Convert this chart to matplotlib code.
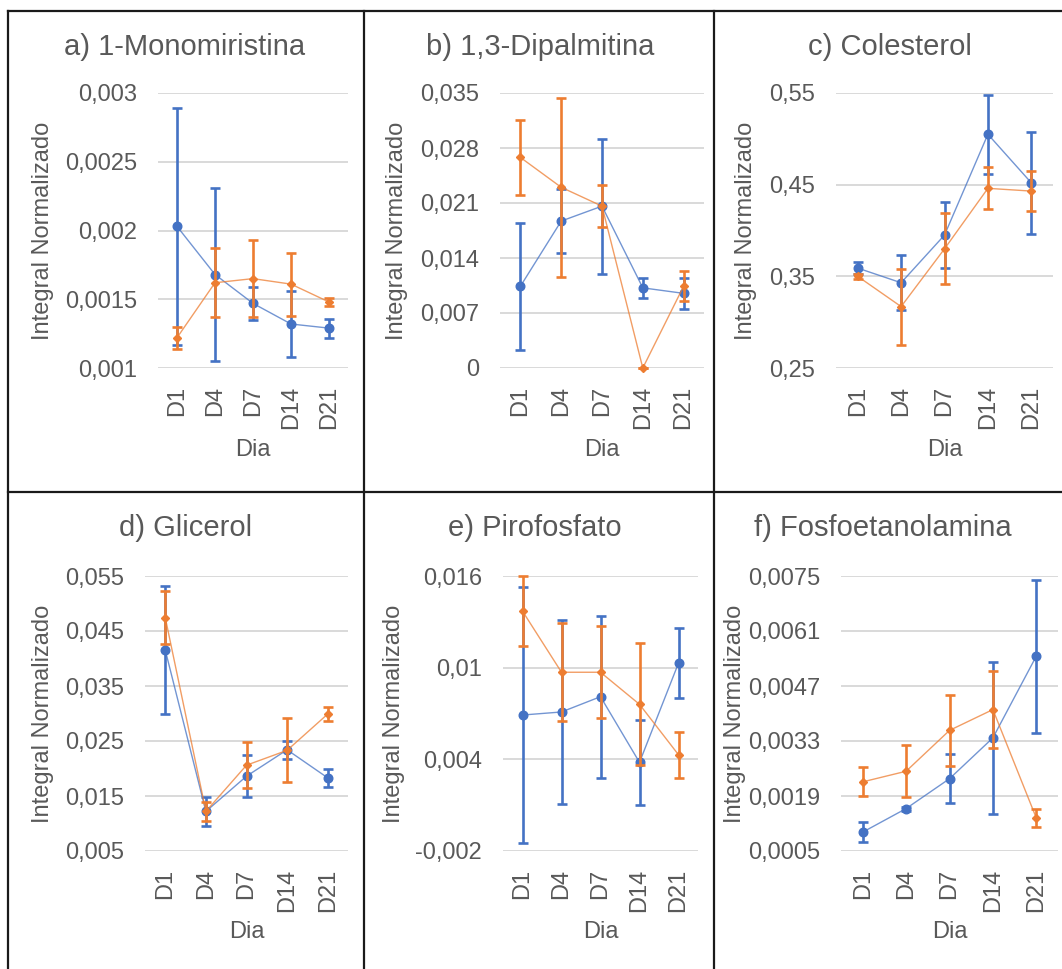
import matplotlib
matplotlib.use("Agg")
import matplotlib.pyplot as plt
from matplotlib.lines import Line2D

plt.rcParams["font.family"] = ["Liberation Sans", "DejaVu Sans"]

# ---- data -------------------------------------------------------------
dias = ["D1", "D4", "D7", "D14", "D21"]

# a) 1-Monomiristina
mono_g1 = [0.00203, 0.00168, 0.00147, 0.00132, 0.00129]
mono_g1_err = [0.00086, 0.00063, 0.00012, 0.00024, 0.00007]
mono_g2 = [0.00122, 0.00162, 0.00165, 0.00161, 0.00148]
mono_g2_err = [0.00008, 0.00025, 0.00028, 0.00023, 0.00003]
mono_ticks = [0.001, 0.0015, 0.002, 0.0025, 0.003]
mono_labels = ["0,001", "0,0015", "0,002", "0,0025", "0,003"]

# b) 1,3-Dipalmitina
dipal_g1 = [0.0104, 0.0187, 0.0206, 0.0102, 0.0095]
dipal_g1_err = [0.0081, 0.0041, 0.0086, 0.0013, 0.0020]
dipal_g2 = [0.0268, 0.0230, 0.0206, 0.0, 0.0104]
dipal_g2_err = [0.0048, 0.0114, 0.0027, 0.0, 0.0019]
dipal_ticks = [0.0, 0.007, 0.014, 0.021, 0.028, 0.035]
dipal_labels = ["0", "0,007", "0,014", "0,021", "0,028", "0,035"]

# c) Colesterol
col_g1 = [0.359, 0.343, 0.395, 0.505, 0.452]
col_g1_err = [0.0065, 0.030, 0.036, 0.043, 0.056]
col_g2 = [0.350, 0.317, 0.380, 0.446, 0.443]
col_g2_err = [0.0025, 0.0415, 0.0387, 0.023, 0.022]
col_ticks = [0.25, 0.35, 0.45, 0.55]
col_labels = ["0,25", "0,35", "0,45", "0,55"]

# d) Glicerol
glic_g1 = [0.0415, 0.0122, 0.0186, 0.0234, 0.0183]
glic_g1_err = [0.0116, 0.0027, 0.0038, 0.0016, 0.0016]
glic_g2 = [0.0474, 0.0122, 0.0206, 0.0233, 0.0299]
glic_g2_err = [0.0048, 0.0017, 0.0042, 0.0058, 0.0012]
glic_ticks = [0.005, 0.015, 0.025, 0.035, 0.045, 0.055]
glic_labels = ["0,005", "0,015", "0,025", "0,035", "0,045", "0,055"]

# e) Pirofosfato
piro_g1 = [0.0069, 0.0071, 0.0081, 0.0038, 0.0103]
piro_g1_err = [0.0084, 0.0060, 0.0053, 0.0028, 0.0023]
piro_g2 = [0.0137, 0.0097, 0.0097, 0.0076, 0.0043]
piro_g2_err = [0.0023, 0.0032, 0.0030, 0.0040, 0.0015]
piro_ticks = [-0.002, 0.004, 0.010, 0.016]
piro_labels = ["-0,002", "0,004", "0,01", "0,016"]

# f) Fosfoetanolamina
fosfo_g1 = [0.00098, 0.00158, 0.00234, 0.00338, 0.00546]
fosfo_g1_err = [0.00026, 0.00005, 0.00062, 0.00193, 0.00195]
fosfo_g2 = [0.00226, 0.00253, 0.00357, 0.00410, 0.00134]
fosfo_g2_err = [0.00037, 0.00066, 0.00091, 0.00097, 0.00023]
fosfo_ticks = [0.0005, 0.0019, 0.0033, 0.0047, 0.0061, 0.0075]
fosfo_labels = ["0,0005", "0,0019", "0,0033", "0,0047", "0,0061", "0,0075"]

# ---- figure -----------------------------------------------------------
W, H = 1062, 969
fig = plt.figure(figsize=(W / 100, H / 100), dpi=100)

AZUL = "#4472C4"
LARANJA = "#ED7D31"
TEXTO = "#595959"
GRADE = "#D9D9D9"


def fx(x):
    return x / W


def fy(y):
    return 1 - y / H


panels = [
    # title, g1, g1 err, g2, g2 err, ticks, labels, axes box (l, t, r, b), title x, ylabel x
    ("a) 1-Monomiristina", mono_g1, mono_g1_err, mono_g2, mono_g2_err,
     mono_ticks, mono_labels, (158, 93, 348, 368), 185, 43),
    ("b) 1,3-Dipalmitina", dipal_g1, dipal_g1_err, dipal_g2, dipal_g2_err,
     dipal_ticks, dipal_labels, (500, 93, 704, 368), 540, 397),
    ("c) Colesterol", col_g1, col_g1_err, col_g2, col_g2_err,
     col_ticks, col_labels, (836, 93, 1053, 368), 890, 746),
    ("d) Glicerol", glic_g1, glic_g1_err, glic_g2, glic_g2_err,
     glic_ticks, glic_labels, (145, 576, 348, 851), 186, 43),
    ("e) Pirofosfato", piro_g1, piro_g1_err, piro_g2, piro_g2_err,
     piro_ticks, piro_labels, (503, 576, 698, 851), 535, 394),
    ("f) Fosfoetanolamina", fosfo_g1, fosfo_g1_err, fosfo_g2, fosfo_g2_err,
     fosfo_ticks, fosfo_labels, (841, 576, 1058, 851), 883, 735),
]

x = list(range(len(dias)))

for (title, g1, g1e, g2, g2e, ticks, labels, box, tx, ylx) in panels:
    l, t, r, b = box
    ax = fig.add_axes([fx(l), fy(b), (r - l) / W, (b - t) / H])
    ax.set_xlim(-0.5, len(dias) - 0.5)
    ax.set_ylim(ticks[0], ticks[-1])
    ax.set_yticks(ticks)
    ax.set_yticklabels(labels)
    ax.set_xticks(x)
    ax.set_xticklabels(dias, rotation=90)
    for s in ax.spines.values():
        s.set_visible(False)
    ax.grid(axis="y", color=GRADE, lw=1.4, zorder=0)
    ax.set_axisbelow(True)
    ax.tick_params(axis="both", length=0, labelsize=17, labelcolor=TEXTO)
    ax.tick_params(axis="y", pad=15)
    ax.tick_params(axis="x", pad=13)

    # series 1 (blue circles)
    ax.plot(x, g1, color=AZUL, lw=1.0, alpha=0.75, zorder=3, clip_on=False)
    ax.errorbar(x, g1, yerr=g1e, fmt="none", ecolor=AZUL, elinewidth=1.9,
                capsize=3.8, capthick=1.9, zorder=4, clip_on=False)
    ax.plot(x, g1, ls="none", marker="o", ms=6.2, color=AZUL, zorder=5,
            clip_on=False)

    # series 2 (orange diamonds)
    ax.plot(x, g2, color=LARANJA, lw=1.0, alpha=0.75, zorder=6, clip_on=False)
    ax.errorbar(x, g2, yerr=g2e, fmt="none", ecolor=LARANJA, elinewidth=1.9,
                capsize=3.8, capthick=1.9, zorder=7, clip_on=False)
    ax.plot(x, g2, ls="none", marker="D", ms=4.0, color=LARANJA, zorder=8,
            clip_on=False)

    yc = (t + b) / 2
    xc = (l + r) / 2
    ty = 47 if t < 400 else 528
    dy = 450 if t < 400 else 932
    fig.text(fx(tx), fy(ty), title, ha="center", va="center", fontsize=21,
             color=TEXTO)
    fig.text(fx(ylx), fy(yc), "Integral Normalizado", rotation=90,
             ha="center", va="center", fontsize=17, color=TEXTO)
    fig.text(fx(xc), fy(dy), "Dia", ha="center", va="center", fontsize=17,
             color=TEXTO)

# panel frame lines
frame = dict(color="#1a1a1a", lw=1.6, transform=fig.transFigure)
fig.add_artist(Line2D([fx(8), fx(W)], [fy(11), fy(11)], **frame))
fig.add_artist(Line2D([fx(8), fx(W)], [fy(492.5), fy(492.5)], **frame))
for xv in (8, 363.5, 714):
    fig.add_artist(Line2D([fx(xv), fx(xv)], [fy(11), fy(H)], **frame))

fig.savefig("out.png", dpi=100, facecolor="white")
